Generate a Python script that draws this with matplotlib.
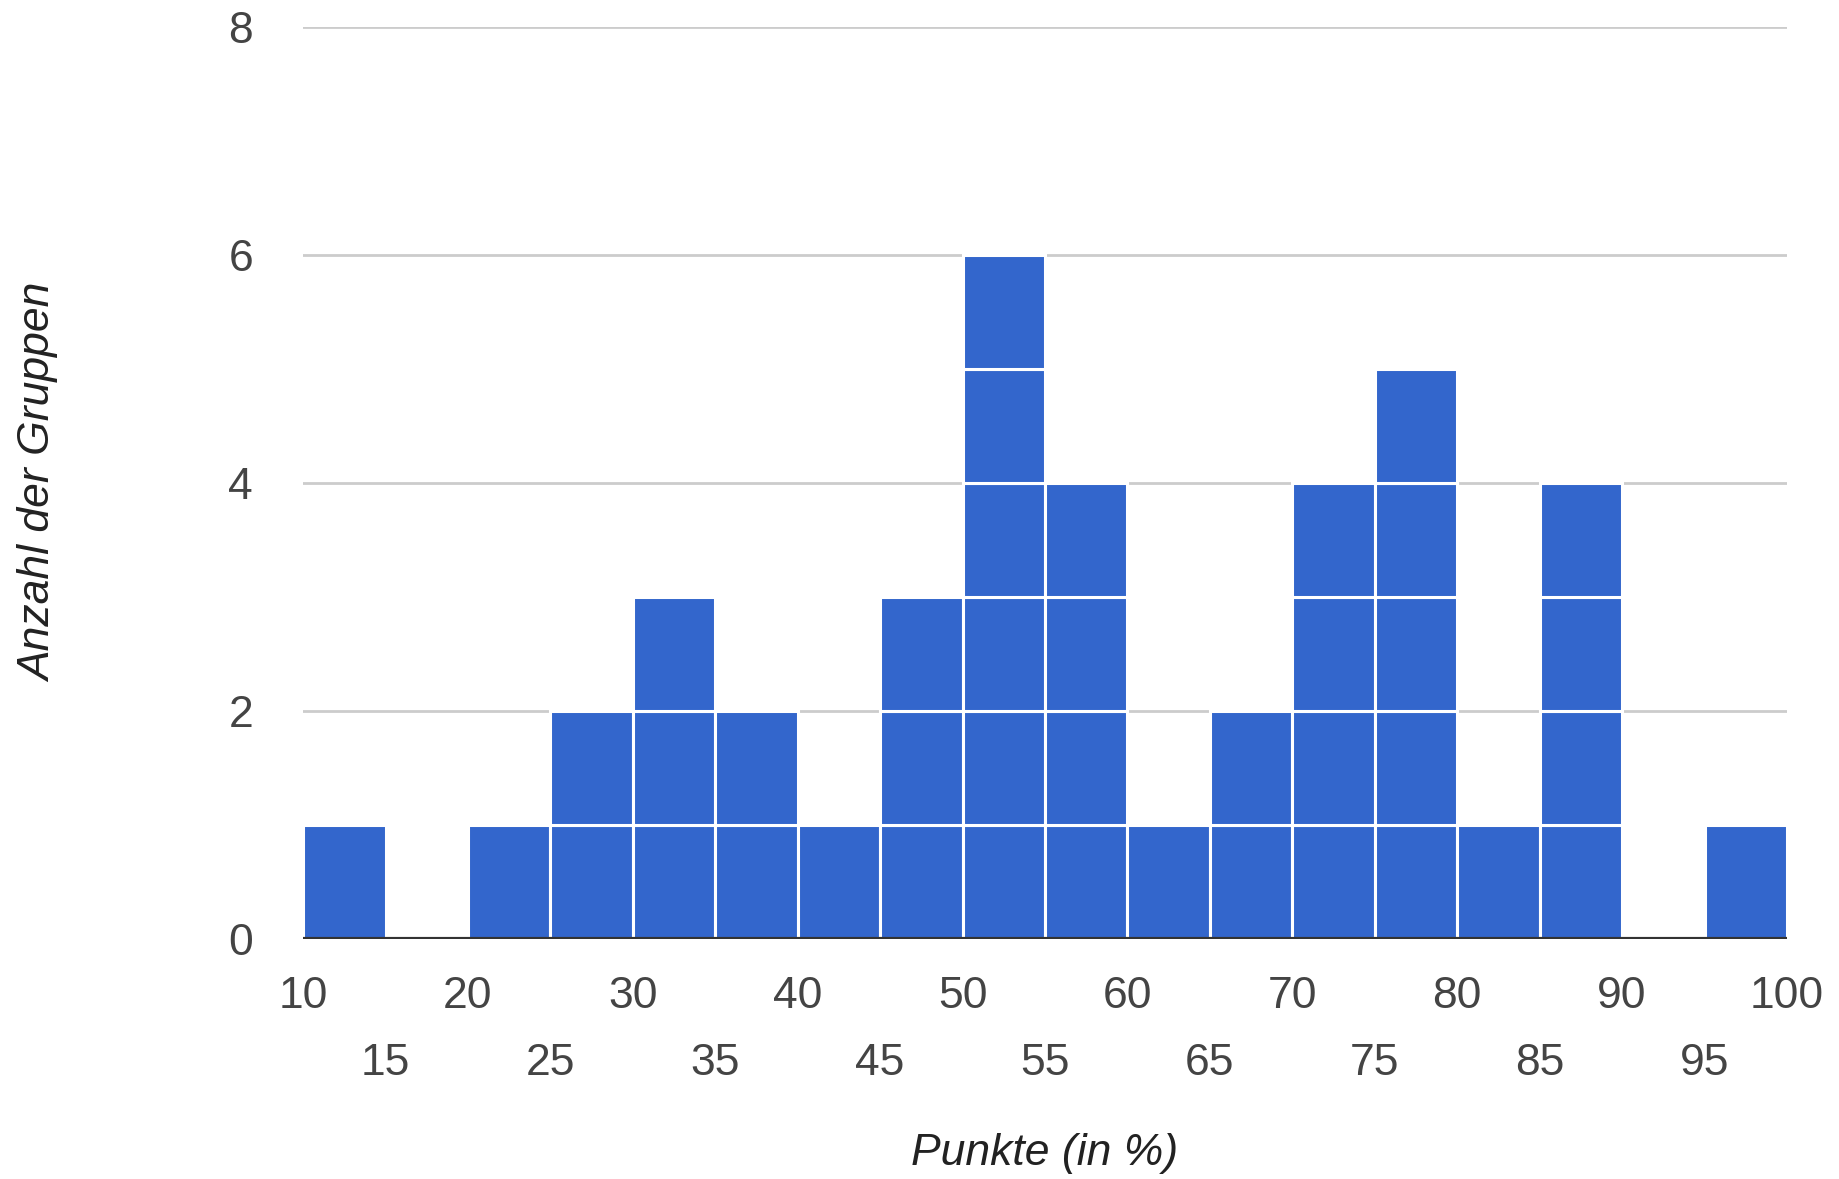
import matplotlib
matplotlib.use("Agg")
import matplotlib.pyplot as plt
import numpy as np

bin_edges = [10, 15, 20, 25, 30, 35, 40, 45, 50, 55, 60, 65, 70, 75, 80, 85, 90, 95, 100]
counts = [1, 0, 1, 2, 3, 2, 1, 3, 6, 4, 1, 2, 4, 5, 1, 4, 0, 1]
major_ticks = [10, 20, 30, 40, 50, 60, 70, 80, 90, 100]
minor_ticks = [15, 25, 35, 45, 55, 65, 75, 85, 95]
y_ticks = [0, 2, 4, 6, 8]
x_title = "Punkte (in %)"
y_title = "Anzahl der Gruppen"

plt.rcParams['font.family'] = ['Liberation Sans', 'DejaVu Sans']

fig = plt.figure(figsize=(18.39, 11.79), dpi=100)
ax = fig.add_axes([0.1648, 0.2036, 0.9717 - 0.1648, 0.977 - 0.2036])

left = np.array(bin_edges[:-1])
widths = np.diff(bin_edges)
cnt = np.array(counts)
for level in range(cnt.max()):
    mask = cnt > level
    ax.bar(left[mask], np.ones(mask.sum()), width=widths[mask], bottom=level,
           align='edge', color='#3366cc', edgecolor='white', linewidth=2.2, zorder=3)

ax.set_xlim(10, 100)
ax.set_ylim(0, 8)
ax.set_yticks(y_ticks)
ax.set_yticklabels([str(v) for v in y_ticks])
for v in y_ticks[1:]:
    ax.axhline(v, color='#cccccc', lw=2, zorder=1)
ax.axhline(0, color='#333333', lw=3, zorder=4)

ax.set_xticks(major_ticks)
ax.set_xticklabels([str(v) for v in major_ticks])
ax.set_xticks(minor_ticks, minor=True)
ax.set_xticklabels([str(v) for v in minor_ticks], minor=True)
ax.tick_params(axis='x', which='major', length=0, pad=27, labelsize=32, labelcolor='#444444')
ax.tick_params(axis='x', which='minor', length=0, pad=75, labelsize=32, labelcolor='#444444')
ax.tick_params(axis='y', length=0, pad=36, labelsize=32, labelcolor='#444444')

for s in ax.spines.values():
    s.set_visible(False)

fig.text(0.5 * (0.1648 + 0.9717), 1 - 1153 / 1179, x_title, ha='center', va='center',
         fontsize=32, style='italic', color='#222222')
fig.text(40 / 1839, 1 - 483 / 1179, y_title, ha='center', va='center', rotation=90,
         fontsize=32, style='italic', color='#222222')

fig.savefig('out.png', dpi=100, facecolor='white')
